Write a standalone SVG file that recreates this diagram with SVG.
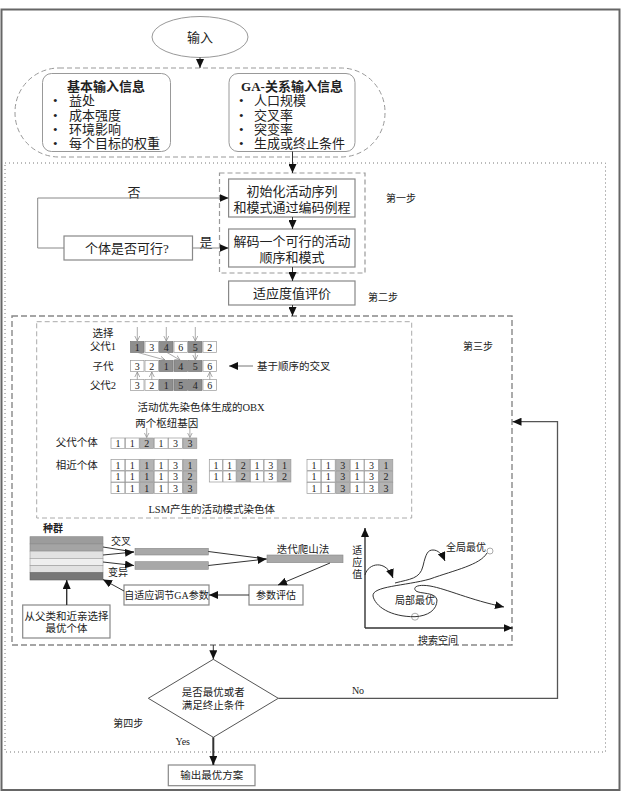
<svg xmlns="http://www.w3.org/2000/svg" width="622" height="795" viewBox="0 0 622 795">
<defs>
<marker id="ah" markerUnits="userSpaceOnUse" markerWidth="10" markerHeight="8" refX="9" refY="4" orient="auto"><path d="M0,0 L9,4 L0,8 z" fill="#111"/></marker>
<marker id="ahs" markerUnits="userSpaceOnUse" markerWidth="6" markerHeight="6" refX="5" refY="3" orient="auto"><path d="M0,0.5 L5,3 L0,5.5" fill="none" stroke="#888" stroke-width="0.7"/></marker>
</defs>
<style>
text{font-family:'Liberation Serif','Noto Sans CJK SC',serif;fill:#222;dominant-baseline:central}
.t13{font-size:13px}
.t10{font-size:10.5px}
.t9{font-size:10px}
.b{font-weight:bold}
.m{text-anchor:middle}
.box{fill:#fff;stroke:#888;stroke-width:1.2}
.c{stroke:#333;stroke-width:1;fill:none}
.cw{fill:#fff;stroke:#999;stroke-width:0.7}
.cd{fill:#8e8e8e;stroke:#777;stroke-width:0.7}
.cg{fill:#b4b4b4;stroke:#999;stroke-width:0.7}
.sm{stroke:#888;stroke-width:0.7;fill:none}
.cell{font-size:10px;text-anchor:middle}
</style>
<rect x="1.5" y="9.5" width="618" height="780.5" fill="#fff" stroke="#666" stroke-width="2"/>
<rect x="5" y="163" width="600.5" height="589" fill="none" stroke="#777" stroke-width="1" stroke-dasharray="1,3"/>

<g id="input"><ellipse cx="200" cy="37" rx="48" ry="20.5" fill="#fff" stroke="#999" stroke-width="1"/><text class="t13 m" x="200" y="37">输入</text></g>

<g id="inputinfo">
<rect x="15" y="68" width="370" height="89" rx="44" fill="none" stroke="#999" stroke-width="1" stroke-dasharray="5,3"/>
<rect x="42.5" y="73.5" width="128" height="78" rx="9" fill="#fff" stroke="#999" stroke-width="1"/>
<text class="t13 b m" x="106" y="86">基本输入信息</text>
<g class="t13"><text x="53" y="100">•</text><text x="69" y="100">益处</text>
<text x="53" y="115">•</text><text x="69" y="115">成本强度</text>
<text x="53" y="129">•</text><text x="69" y="129">环境影响</text>
<text x="53" y="143">•</text><text x="69" y="143">每个目标的权重</text></g>
<rect x="229" y="73.5" width="126" height="78" rx="9" fill="#fff" stroke="#999" stroke-width="1"/>
<text class="t13 b m" x="292" y="86">GA-关系输入信息</text>
<g class="t13"><text x="239" y="100">•</text><text x="254" y="100">人口规模</text>
<text x="239" y="115">•</text><text x="254" y="115">交叉率</text>
<text x="239" y="129">•</text><text x="254" y="129">突变率</text>
<text x="239" y="143">•</text><text x="254" y="143">生成或终止条件</text></g>
</g>

<g id="step1">
<rect x="219.5" y="173" width="145.5" height="100" fill="none" stroke="#999" stroke-width="1.2" stroke-dasharray="5,3"/>
<text class="t9 m" x="401" y="198">第一步</text>
</g>
<g id="init"><rect class="box" x="228.6" y="179" width="126.4" height="38"/><text class="t13 m" x="292" y="191.5">初始化活动序列</text><text class="t13 m" x="292" y="207">和模式通过编码例程</text></g>
<g id="decode"><rect class="box" x="228.6" y="229" width="126.4" height="38"/><text class="t13 m" x="292" y="241.5">解码一个可行的活动</text><text class="t13 m" x="292" y="257">顺序和模式</text></g>
<g id="feasible"><rect class="box" x="64" y="236" width="128.5" height="24"/><text class="t13 m" x="127" y="248.5">个体是否可行?</text></g>
<g id="fitness"><rect class="box" x="228.6" y="281" width="126.4" height="24"/><text class="t13 m" x="292" y="293">适应度值评价</text><text class="t9 m" x="383" y="297">第二步</text></g>

<g id="step3">
<rect x="12" y="316" width="500" height="329" fill="none" stroke="#888" stroke-width="1.4" stroke-dasharray="6,3"/>
<text class="t9 m" x="478" y="346">第三步</text>
<rect x="36.7" y="321.7" width="375" height="196.3" fill="none" stroke="#aaa" stroke-width="1" stroke-dasharray="5,3"/>
</g>

<g id="obx">
<g class="t10 m"><text x="103" y="333">选择</text><text x="103" y="346">父代1</text><text x="103" y="366">子代</text><text x="103" y="385">父代2</text></g>
<g>
<rect class="cd" x="130.5" y="341.5" width="13.5" height="11"/><rect class="cw" x="145" y="341.5" width="13.5" height="11"/><rect class="cd" x="159.5" y="341.5" width="13.5" height="11"/><rect class="cw" x="174" y="341.5" width="13.5" height="11"/><rect class="cd" x="188.5" y="341.5" width="13.5" height="11"/><rect class="cw" x="203" y="341.5" width="13.5" height="11"/>
<text class="cell" x="137.3" y="347">1</text><text class="cell" x="151.8" y="347">3</text><text class="cell" x="166.3" y="347">4</text><text class="cell" x="180.8" y="347">6</text><text class="cell" x="195.3" y="347">5</text><text class="cell" x="209.8" y="347">2</text>
<rect class="cw" x="130.5" y="360.5" width="13.5" height="11"/><rect class="cw" x="145" y="360.5" width="13.5" height="11"/><rect class="cd" x="159.5" y="360.5" width="13.5" height="11"/><rect class="cd" x="174" y="360.5" width="13.5" height="11"/><rect class="cd" x="188.5" y="360.5" width="13.5" height="11"/><rect class="cw" x="203" y="360.5" width="13.5" height="11"/>
<text class="cell" x="137.3" y="366">3</text><text class="cell" x="151.8" y="366">2</text><text class="cell" x="166.3" y="366">1</text><text class="cell" x="180.8" y="366">4</text><text class="cell" x="195.3" y="366">5</text><text class="cell" x="209.8" y="366">6</text>
<rect class="cw" x="130.5" y="379.5" width="13.5" height="11"/><rect class="cw" x="145" y="379.5" width="13.5" height="11"/><rect class="cd" x="159.5" y="379.5" width="13.5" height="11"/><rect class="cd" x="174" y="379.5" width="13.5" height="11"/><rect class="cd" x="188.5" y="379.5" width="13.5" height="11"/><rect class="cw" x="203" y="379.5" width="13.5" height="11"/>
<text class="cell" x="137.3" y="385">3</text><text class="cell" x="151.8" y="385">2</text><text class="cell" x="166.3" y="385">1</text><text class="cell" x="180.8" y="385">5</text><text class="cell" x="195.3" y="385">4</text><text class="cell" x="209.8" y="385">6</text>
</g>
<g class="sm" marker-end="url(#ahs)">
<line x1="137.3" y1="327" x2="137.3" y2="341"/><line x1="166.3" y1="327" x2="166.3" y2="341"/><line x1="195.3" y1="327" x2="195.3" y2="341"/>
<line x1="138" y1="352.5" x2="165" y2="360"/><line x1="167" y1="352.5" x2="180" y2="360"/><line x1="195.3" y1="352.5" x2="195.3" y2="360"/>
<line x1="137.3" y1="379.5" x2="137.3" y2="372"/><line x1="151.8" y1="379.5" x2="151.8" y2="372"/><line x1="209.8" y1="379.5" x2="209.8" y2="372"/>
</g>
<line x1="253" y1="366" x2="229" y2="366" stroke="#777" stroke-width="1" marker-end="url(#ah)"/>
<text class="t10" x="257" y="366">基于顺序的交叉</text>
<text class="t10 m" x="201" y="407">活动优先染色体生成的OBX</text>
</g>

<g id="lsm">
<text class="t10 m" x="166.7" y="423">两个枢纽基因</text>
<text class="t10 m" x="76.7" y="442">父代个体</text>
<text class="t10 m" x="76.7" y="465">相近个体</text>
<g class="sm" marker-end="url(#ahs)"><line x1="146.7" y1="428" x2="146.7" y2="437.5"/><line x1="189.9" y1="428" x2="189.9" y2="437.5"/></g>
<g>
<rect class="cw" x="111" y="438" width="13.8" height="10.5"/><rect class="cw" x="125.4" y="438" width="13.8" height="10.5"/><rect class="cg" x="139.8" y="438" width="13.8" height="10.5"/><rect class="cw" x="154.2" y="438" width="13.8" height="10.5"/><rect class="cw" x="168.6" y="438" width="13.8" height="10.5"/><rect class="cg" x="183" y="438" width="13.8" height="10.5"/>
<text class="cell" x="117.9" y="443.3">1</text><text class="cell" x="132.3" y="443.3">1</text><text class="cell" x="146.7" y="443.3">2</text><text class="cell" x="161.1" y="443.3">1</text><text class="cell" x="175.5" y="443.3">3</text><text class="cell" x="189.9" y="443.3">3</text>
</g>
<g id="g1">
<rect class="cw" x="111" y="459.5" width="13.8" height="11"/><rect class="cw" x="125.4" y="459.5" width="13.8" height="11"/><rect class="cg" x="139.8" y="459.5" width="13.8" height="11"/><rect class="cw" x="154.2" y="459.5" width="13.8" height="11"/><rect class="cw" x="168.6" y="459.5" width="13.8" height="11"/><rect class="cg" x="183" y="459.5" width="13.8" height="11"/>
<rect class="cw" x="111" y="471" width="13.8" height="11"/><rect class="cw" x="125.4" y="471" width="13.8" height="11"/><rect class="cg" x="139.8" y="471" width="13.8" height="11"/><rect class="cw" x="154.2" y="471" width="13.8" height="11"/><rect class="cw" x="168.6" y="471" width="13.8" height="11"/><rect class="cg" x="183" y="471" width="13.8" height="11"/>
<rect class="cw" x="111" y="482.5" width="13.8" height="11"/><rect class="cw" x="125.4" y="482.5" width="13.8" height="11"/><rect class="cg" x="139.8" y="482.5" width="13.8" height="11"/><rect class="cw" x="154.2" y="482.5" width="13.8" height="11"/><rect class="cw" x="168.6" y="482.5" width="13.8" height="11"/><rect class="cg" x="183" y="482.5" width="13.8" height="11"/>
<text class="cell" x="117.9" y="465">1</text><text class="cell" x="132.3" y="465">1</text><text class="cell" x="146.7" y="465">1</text><text class="cell" x="161.1" y="465">1</text><text class="cell" x="175.5" y="465">3</text><text class="cell" x="189.9" y="465">1</text>
<text class="cell" x="117.9" y="476.5">1</text><text class="cell" x="132.3" y="476.5">1</text><text class="cell" x="146.7" y="476.5">1</text><text class="cell" x="161.1" y="476.5">1</text><text class="cell" x="175.5" y="476.5">3</text><text class="cell" x="189.9" y="476.5">2</text>
<text class="cell" x="117.9" y="488">1</text><text class="cell" x="132.3" y="488">1</text><text class="cell" x="146.7" y="488">1</text><text class="cell" x="161.1" y="488">1</text><text class="cell" x="175.5" y="488">3</text><text class="cell" x="189.9" y="488">3</text>
</g>
<g id="g2">
<rect class="cw" x="209.3" y="459.5" width="13.1" height="11"/><rect class="cw" x="223" y="459.5" width="13.1" height="11"/><rect class="cg" x="236.7" y="459.5" width="13.1" height="11"/><rect class="cw" x="250.4" y="459.5" width="13.1" height="11"/><rect class="cw" x="264.1" y="459.5" width="13.1" height="11"/><rect class="cg" x="277.8" y="459.5" width="13.1" height="11"/>
<rect class="cw" x="209.3" y="471" width="13.1" height="11"/><rect class="cw" x="223" y="471" width="13.1" height="11"/><rect class="cg" x="236.7" y="471" width="13.1" height="11"/><rect class="cw" x="250.4" y="471" width="13.1" height="11"/><rect class="cw" x="264.1" y="471" width="13.1" height="11"/><rect class="cg" x="277.8" y="471" width="13.1" height="11"/>
<text class="cell" x="215.9" y="465">1</text><text class="cell" x="229.6" y="465">1</text><text class="cell" x="243.3" y="465">2</text><text class="cell" x="257" y="465">1</text><text class="cell" x="270.7" y="465">3</text><text class="cell" x="284.4" y="465">1</text>
<text class="cell" x="215.9" y="476.5">1</text><text class="cell" x="229.6" y="476.5">1</text><text class="cell" x="243.3" y="476.5">2</text><text class="cell" x="257" y="476.5">1</text><text class="cell" x="270.7" y="476.5">3</text><text class="cell" x="284.4" y="476.5">2</text>
</g>
<g id="g3">
<rect class="cw" x="307" y="459.5" width="13.8" height="11"/><rect class="cw" x="321.4" y="459.5" width="13.8" height="11"/><rect class="cg" x="335.8" y="459.5" width="13.8" height="11"/><rect class="cw" x="350.2" y="459.5" width="13.8" height="11"/><rect class="cw" x="364.6" y="459.5" width="13.8" height="11"/><rect class="cg" x="379" y="459.5" width="13.8" height="11"/>
<rect class="cw" x="307" y="471" width="13.8" height="11"/><rect class="cw" x="321.4" y="471" width="13.8" height="11"/><rect class="cg" x="335.8" y="471" width="13.8" height="11"/><rect class="cw" x="350.2" y="471" width="13.8" height="11"/><rect class="cw" x="364.6" y="471" width="13.8" height="11"/><rect class="cg" x="379" y="471" width="13.8" height="11"/>
<rect class="cw" x="307" y="482.5" width="13.8" height="11"/><rect class="cw" x="321.4" y="482.5" width="13.8" height="11"/><rect class="cg" x="335.8" y="482.5" width="13.8" height="11"/><rect class="cw" x="350.2" y="482.5" width="13.8" height="11"/><rect class="cw" x="364.6" y="482.5" width="13.8" height="11"/><rect class="cg" x="379" y="482.5" width="13.8" height="11"/>
<text class="cell" x="313.9" y="465">1</text><text class="cell" x="328.3" y="465">1</text><text class="cell" x="342.7" y="465">3</text><text class="cell" x="357.1" y="465">1</text><text class="cell" x="371.5" y="465">3</text><text class="cell" x="385.9" y="465">1</text>
<text class="cell" x="313.9" y="476.5">1</text><text class="cell" x="328.3" y="476.5">1</text><text class="cell" x="342.7" y="476.5">3</text><text class="cell" x="357.1" y="476.5">1</text><text class="cell" x="371.5" y="476.5">3</text><text class="cell" x="385.9" y="476.5">2</text>
<text class="cell" x="313.9" y="488">1</text><text class="cell" x="328.3" y="488">1</text><text class="cell" x="342.7" y="488">3</text><text class="cell" x="357.1" y="488">1</text><text class="cell" x="371.5" y="488">3</text><text class="cell" x="385.9" y="488">3</text>
</g>
<text class="t10 m" x="211.7" y="509">LSM产生的活动模式染色体</text>
</g>

<g id="population">
<text class="t9 b m" x="53" y="528">种群</text>
<rect x="30" y="536.7" width="73" height="7.2" fill="#9c9c9c" stroke="#888" stroke-width="0.6"/>
<rect x="30" y="543.9" width="73" height="7.2" fill="#a4a4a4" stroke="#888" stroke-width="0.6"/>
<rect x="30" y="551.1" width="73" height="7.2" fill="#e2e2e2" stroke="#999" stroke-width="0.6"/>
<rect x="30" y="558.3" width="73" height="7.2" fill="#efefef" stroke="#999" stroke-width="0.6"/>
<rect x="30" y="565.5" width="73" height="7.2" fill="#e2e2e2" stroke="#999" stroke-width="0.6"/>
<rect x="30" y="572.7" width="73" height="7.3" fill="#777" stroke="#666" stroke-width="0.6"/>
</g>
<g id="bars">
<rect x="135" y="548.3" width="73.3" height="6.7" fill="#a8a8a8" stroke="#888" stroke-width="0.6"/>
<rect x="135" y="561.7" width="73.3" height="7.6" fill="#a8a8a8" stroke="#888" stroke-width="0.6"/>
<rect x="267" y="555" width="76" height="7.7" fill="#a8a8a8" stroke="#888" stroke-width="0.6"/>
<text class="t9 m" x="121" y="541.7">交叉</text>
<text class="t9 m" x="118" y="572.7">变异</text>
<text class="t10 m" x="303" y="549">迭代爬山法</text>
</g>
<g id="eval"><rect class="box" x="249" y="585" width="54" height="20" stroke="#555"/><text class="t9 m" x="276" y="595">参数评估</text></g>
<g id="adapt"><rect class="box" x="124" y="585" width="85" height="20" stroke="#555"/><text class="t9 m" x="166.5" y="595">自适应调节GA参数</text></g>
<g id="select"><rect class="box" x="22.7" y="605" width="87.3" height="33" stroke="#555"/><text class="t10 m" x="66.4" y="616.7">从父类和近亲选择</text><text class="t10 m" x="66.4" y="628.5">最优个体</text></g>

<g id="landscape">
<text class="t9 m" x="357.3" y="550">适</text><text class="t9 m" x="357.3" y="562">应</text><text class="t9 m" x="357.3" y="574">值</text>
<text class="t9 m" x="438" y="640">搜索空间</text>
<text class="t9 m" x="466" y="547.3">全局最优</text>
<text class="t9 m" x="415" y="600.7">局部最优</text>
<circle cx="490" cy="551" r="3" fill="none" stroke="#888" stroke-width="0.7"/>
<circle cx="415" cy="616.7" r="3.5" fill="none" stroke="#888" stroke-width="0.7"/>
<path class="c" d="M365,575 C368,563 386,559 393,578" marker-end="url(#ah)"/>
<path class="c" d="M395,583 C410,579 420,579 423,566 C426,553 428,550 433,550 C438,550 442,554 445,561" marker-end="url(#ah)"/>
<path class="c" d="M487,553 C480,565 455,570 430,579 C405,586 372,586 373,596 C375,606 390,617 415,616.7 C428,616 437,610 437,600 C436,592 420,594 416,591"/>
<path class="c" d="M416,591 C412,587 418,584 430,586 C447,589 470,600 504,607" marker-end="url(#ah)"/>
</g>

<g id="decision"><polygon points="213.3,659.3 278.3,698.3 213.3,737.3 148.3,698.3" fill="#fff" stroke="#555" stroke-width="1"/><text class="t10 m" x="213.3" y="692.5">是否最优或者</text><text class="t10 m" x="213.3" y="705">满足终止条件</text></g>
<g id="output"><rect class="box" x="168.3" y="765" width="86.7" height="20.7" stroke="#555"/><text class="t10 m" x="211.7" y="775.5">输出最优方案</text></g>

<g id="labels">
<text class="t13 m" x="134" y="192">否</text>
<text class="t13 m" x="206" y="242">是</text>
<text class="t9 m" x="358" y="690.7">No</text>
<text class="t9 m" x="182.7" y="741.7">Yes</text>
<text class="t9 m" x="128.3" y="723.3">第四步</text>
</g>

<g id="connectors" class="c">
<line x1="200" y1="57.5" x2="200" y2="68" marker-end="url(#ah)"/>
<line x1="292.5" y1="151.5" x2="292.5" y2="173" marker-end="url(#ah)"/>
<line x1="292.5" y1="217" x2="292.5" y2="229" marker-end="url(#ah)"/>
<line x1="192.5" y1="248" x2="228.6" y2="248" marker-end="url(#ah)" stroke="#888"/>
<polyline points="64,248 37.7,248 37.7,198 228.6,198" marker-end="url(#ah)" stroke="#888"/>
<line x1="292.5" y1="267" x2="292.5" y2="281" marker-end="url(#ah)"/>
<line x1="292.5" y1="305" x2="292.5" y2="316" marker-end="url(#ah)"/>
<line x1="103" y1="547" x2="134" y2="552"/>
<line x1="103" y1="555" x2="134" y2="552" marker-end="url(#ah)"/>
<line x1="103" y1="562" x2="134" y2="565.5" marker-end="url(#ah)"/>
<line x1="208.3" y1="551.5" x2="266.5" y2="559"/>
<line x1="208.3" y1="565.5" x2="266.5" y2="559" marker-end="url(#ah)"/>
<line x1="330" y1="563" x2="278" y2="585" marker-end="url(#ah)"/>
<line x1="249" y1="595" x2="209" y2="595" marker-end="url(#ah)"/>
<line x1="124" y1="591" x2="103" y2="579.5" marker-end="url(#ah)"/>
<line x1="66.7" y1="605" x2="66.7" y2="580" marker-end="url(#ah)" stroke-width="1.4"/>
<line x1="365" y1="628" x2="365" y2="528" marker-end="url(#ah)" stroke-width="1.4"/>
<line x1="365" y1="628" x2="512.7" y2="628" marker-end="url(#ah)" stroke-width="1.4"/>
<line x1="213.3" y1="645" x2="213.3" y2="659.3" marker-end="url(#ah)"/>
<polyline points="278.3,698.3 557.5,698.3 557.5,421.7 512.5,421.7" marker-end="url(#ah)" stroke="#555" stroke-width="1.3"/>
<line x1="213.3" y1="737.3" x2="213.3" y2="765" marker-end="url(#ah)" stroke-width="2"/>
</g>
</svg>
